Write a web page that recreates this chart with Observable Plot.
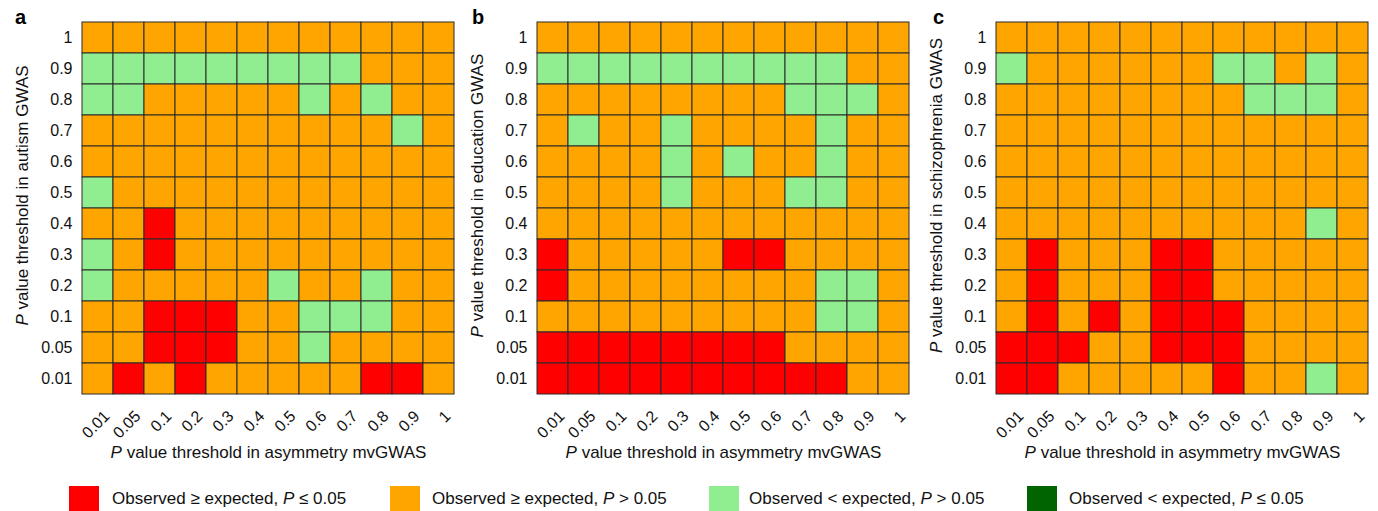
<!DOCTYPE html>
<html>
<head>
<meta charset="utf-8">
<script src="https://cdn.jsdelivr.net/npm/d3@7"></script>
<script src="https://cdn.jsdelivr.net/npm/@observablehq/plot@0.6"></script>
<style>
  body { margin: 0; background: #fff; font-family: Arial, "Liberation Sans", Helvetica, sans-serif; }
  #root { position: relative; width: 1378px; height: 511px; overflow: hidden; background: #fff; }
  .panel { position: absolute; top: 0; }
  .letter { position: absolute; top: 7px; font-weight: bold; font-size: 20px; line-height: 20px; color: #000; }
  .sw { position: absolute; top: 486px; width: 30px; height: 26px; }
  .lt { position: absolute; top: 489px; font-size: 17px; line-height: 20px; white-space: nowrap; color: #111; }
</style>
</head>
<body>
<div id="root"></div>
<script>
// ---- data ----
const xLabels = ["0.01", "0.05", "0.1", "0.2", "0.3", "0.4", "0.5", "0.6", "0.7", "0.8", "0.9", "1"];
const yLabels = ["1", "0.9", "0.8", "0.7", "0.6", "0.5", "0.4", "0.3", "0.2", "0.1", "0.05", "0.01"]; // top to bottom

const categoryCodes = ["R", "O", "G", "D"];
const categories = [
  "Observed ≥ expected, P ≤ 0.05",
  "Observed ≥ expected, P > 0.05",
  "Observed < expected, P > 0.05",
  "Observed < expected, P ≤ 0.05"
];
const categoryColors = ["#ff0000", "#ffa500", "#90ee90", "#006400"];

// rows listed top (1) to bottom (0.01); columns 0.01 ... 1
const autismRows = [
  "OOOOOOOOOOOO",
  "GGGGGGGGGOOO",
  "GGOOOOOGOGOO",
  "OOOOOOOOOOGO",
  "OOOOOOOOOOOO",
  "GOOOOOOOOOOO",
  "OOROOOOOOOOO",
  "GOROOOOOOOOO",
  "GOOOOOGOOGOO",
  "OORRROOGGGOO",
  "OORRROOGOOOO",
  "OROROOOOORRO"
];
const educationRows = [
  "OOOOOOOOOOOO",
  "GGGGGGGGGGOO",
  "OOOOOOOOGGGO",
  "OGOOGOOOOGOO",
  "OOOOGOGOOGOO",
  "OOOOGOOOGGOO",
  "OOOOOOOOOOOO",
  "ROOOOORROOOO",
  "ROOOOOOOOGGO",
  "OOOOOOOOOGGO",
  "RRRRRRRROOOO",
  "RRRRRRRRRROO"
];
const schizophreniaRows = [
  "OOOOOOOOOOOO",
  "GOOOOOOGGOGO",
  "OOOOOOOOGGGO",
  "OOOOOOOOOOOO",
  "OOOOOOOOOOOO",
  "OOOOOOOOOOOO",
  "OOOOOOOOOOGO",
  "OROOORROOOOO",
  "OROOORROOOOO",
  "ORORORRROOOO",
  "RRROORRROOOO",
  "RROOOOOROOGO"
];

const panelLetters = ["a", "b", "c"];
const yTitles = [
  "P value threshold in autism GWAS",
  "P value threshold in education GWAS",
  "P value threshold in schizophrenia GWAS"
];
const xTitle = "P value threshold in asymmetry mvGWAS";
const panelRows = [autismRows, educationRows, schizophreniaRows];

// ---- layout ----
const panelLefts = [0, 455, 914];
const letterLefts = [15, 472, 933];
const swatchLefts = [69, 390, 709, 1027];
const legendTextLefts = [112, 432, 749, 1069];

const root = document.getElementById("root");

function toCells(rows) {
  const out = [];
  rows.forEach((r, i) => {
    [...r].forEach((c, j) => {
      out.push({x: xLabels[j], y: yLabels[i], cat: categories[categoryCodes.indexOf(c)]});
    });
  });
  return out;
}

function italicizeP(svg) {
  d3.select(svg).selectAll("text").each(function () {
    const t = this.textContent;
    if (t.startsWith("P value")) {
      const sel = d3.select(this);
      sel.text(null);
      sel.append("tspan").attr("font-style", "italic").text("P");
      sel.append("tspan").text(t.slice(1));
    }
  });
}

panelRows.forEach((rows, k) => {
  const cells = toCells(rows);
  const plot = Plot.plot({
    width: 460,
    height: 470,
    marginLeft: 82,
    marginRight: 6,
    marginTop: 21,
    marginBottom: 75,
    style: {fontFamily: "Arial, 'Liberation Sans', sans-serif", background: "white", color: "#111", overflow: "visible"},
    x: {domain: xLabels, padding: 0, label: null},
    y: {domain: yLabels, padding: 0, label: null},
    color: {domain: categories, range: categoryColors},
    marks: [
      Plot.cell(cells, {x: "x", y: "y", fill: "cat", stroke: "#2a2a2a", strokeWidth: 1, inset: 0}),
      Plot.axisX({tickSize: 0, tickRotate: -45, tickPadding: 18, dx: 9, fontSize: 16, label: null}),
      Plot.axisY({tickSize: 0, tickPadding: 10, fontSize: 16, label: null}),
      Plot.text([xTitle], {text: d => d, frameAnchor: "bottom", dy: 57, fontSize: 17, textAnchor: "middle", lineAnchor: "middle", fill: "#111"}),
      Plot.text([yTitles[k]], {text: d => d, frameAnchor: "left", rotate: -90, dx: -60, dy: -13, fontSize: 17, textAnchor: "middle", lineAnchor: "middle", fill: "#111"})
    ]
  });
  italicizeP(plot);
  const wrap = document.createElement("div");
  wrap.className = "panel";
  wrap.style.left = panelLefts[k] + "px";
  wrap.appendChild(plot);
  root.appendChild(wrap);

  const letter = document.createElement("div");
  letter.className = "letter";
  letter.style.left = letterLefts[k] + "px";
  letter.textContent = panelLetters[k];
  root.appendChild(letter);
});

// ---- legend ----
categories.forEach((c, i) => {
  const sw = document.createElement("div");
  sw.className = "sw";
  sw.style.left = swatchLefts[i] + "px";
  sw.style.background = categoryColors[i];
  root.appendChild(sw);
  const lt = document.createElement("div");
  lt.className = "lt";
  lt.style.left = legendTextLefts[i] + "px";
  lt.innerHTML = c.replace(" P ", " <i>P</i> ");
  root.appendChild(lt);
});
</script>
</body>
</html>
